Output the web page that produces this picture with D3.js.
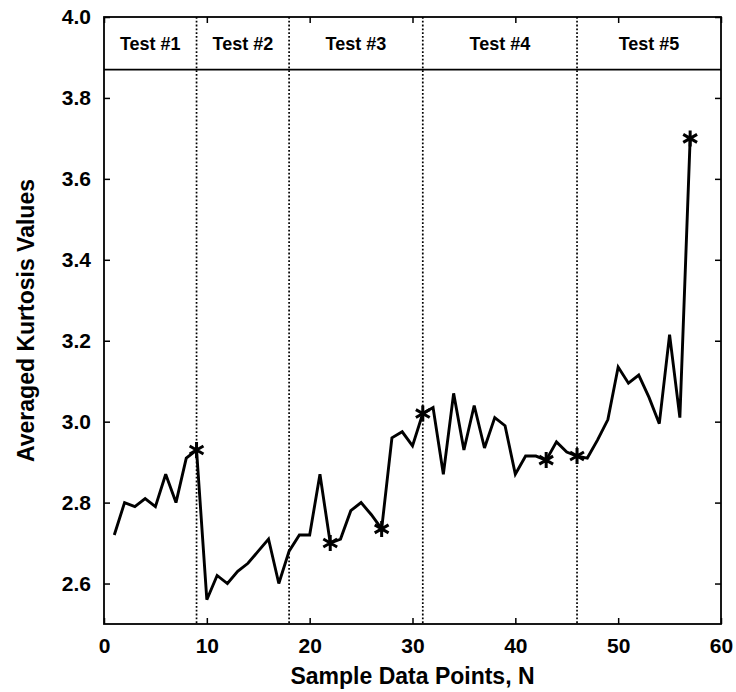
<!DOCTYPE html>
<html>
<head>
<meta charset="utf-8">
<script src="https://cdn.jsdelivr.net/npm/d3@7"></script>
<style>
  html, body { margin: 0; padding: 0; background: #fff; }
  svg { display: block; }
  text { font-family: "Liberation Sans", Arial, Helvetica, sans-serif; font-weight: bold; fill: #000; }
</style>
</head>
<body>
<script>
// ---- data ----
const sampleN = [1,2,3,4,5,6,7,8,9,10,11,12,13,14,15,16,17,18,19,20,21,22,23,24,25,26,27,28,29,30,
                 31,32,33,34,35,36,37,38,39,40,41,42,43,44,45,46,47,48,49,50,51,52,53,54,55,56,57];
const kurtosis = [2.72,2.80,2.79,2.81,2.79,2.87,2.80,2.91,2.93,2.56,
                  2.62,2.60,2.63,2.65,2.68,2.71,2.60,2.68,2.72,2.72,
                  2.87,2.70,2.71,2.78,2.80,2.77,2.735,2.96,2.975,2.94,
                  3.02,3.035,2.87,3.07,2.93,3.04,2.935,3.01,2.99,2.87,
                  2.915,2.915,2.905,2.95,2.925,2.915,2.91,2.955,3.005,3.135,
                  3.095,3.115,3.06,2.995,3.215,3.01,3.70];
const starN = [9,22,27,31,43,46,57];
const dividerN = [9,18,31,46];
const testLabels = ["Test #1","Test #2","Test #3","Test #4","Test #5"];
const headerBottom = 3.87;
const xTicks = [0,10,20,30,40,50,60];
const yTicks = [2.6,2.8,3.0,3.2,3.4,3.6,3.8,4.0];
const xTitle = "Sample Data Points, N";
const yTitle = "Averaged Kurtosis Values";

// ---- layout ----
const W = 736, H = 692;
const L = 104, R = 721, T = 17, B = 624;

const svg = d3.select("body").append("svg").attr("width", W).attr("height", H);

const x = d3.scaleLinear().domain([0, 60]).range([L, R]);
const y = d3.scaleLinear().domain([2.5, 4.0]).range([B, T]);

const fmt = d3.format(".1f");

// bottom axis (ticks inward)
const gx = svg.append("g").attr("transform", `translate(0,${B})`)
  .call(d3.axisBottom(x).tickValues(xTicks).tickSizeInner(-6).tickSizeOuter(0).tickPadding(14).tickFormat(d3.format("d")));
gx.select(".domain").remove();
gx.selectAll("text").attr("font-size", 21).attr("dy", "0.71em");
gx.selectAll("line").attr("stroke-width", 1.5);

// top ticks
const gxt = svg.append("g").attr("transform", `translate(0,${T})`)
  .call(d3.axisTop(x).tickValues(xTicks).tickSizeInner(-6).tickSizeOuter(0).tickFormat(""));
gxt.select(".domain").remove();
gxt.selectAll("line").attr("stroke-width", 1.5);

// left axis
const gy = svg.append("g").attr("transform", `translate(${L},0)`)
  .call(d3.axisLeft(y).tickValues(yTicks).tickSizeInner(-6).tickSizeOuter(0).tickPadding(13).tickFormat(fmt));
gy.select(".domain").remove();
gy.selectAll("text").attr("font-size", 21);
gy.selectAll("line").attr("stroke-width", 1.5);

// right ticks
const gyr = svg.append("g").attr("transform", `translate(${R},0)`)
  .call(d3.axisRight(y).tickValues(yTicks).tickSizeInner(-6).tickSizeOuter(0).tickFormat(""));
gyr.select(".domain").remove();
gyr.selectAll("line").attr("stroke-width", 1.5);

// frame
svg.append("rect").attr("x", L).attr("y", T).attr("width", R - L).attr("height", B - T)
  .attr("fill", "none").attr("stroke", "#000").attr("stroke-width", 1.8);

// header separator
svg.append("line").attr("x1", L).attr("x2", R).attr("y1", y(headerBottom)).attr("y2", y(headerBottom))
  .attr("stroke", "#000").attr("stroke-width", 1.6);

// dotted dividers
svg.append("g").selectAll("line").data(dividerN).join("line")
  .attr("x1", d => x(d)).attr("x2", d => x(d))
  .attr("y1", T).attr("y2", B)
  .attr("stroke", "#000").attr("stroke-width", 1.7).attr("stroke-dasharray", "1.8,2");

// test labels
const bounds = [0, ...dividerN, 60];
svg.append("g").selectAll("text").data(testLabels).join("text")
  .attr("x", (d, i) => (x(bounds[i]) + x(bounds[i + 1])) / 2)
  .attr("y", (y(4.0) + y(headerBottom)) / 2)
  .attr("dy", "0.36em")
  .attr("text-anchor", "middle")
  .attr("font-size", 18)
  .text(d => d);

// data line
const pts = sampleN.map((n, i) => [n, kurtosis[i]]);
svg.append("path").datum(pts)
  .attr("fill", "none").attr("stroke", "#000").attr("stroke-width", 2.9)
  .attr("stroke-linejoin", "miter").attr("stroke-miterlimit", 3)
  .attr("d", d3.line().x(d => x(d[0])).y(d => y(d[1])));

// star markers
const sym = d3.symbol().type(d3.symbolAsterisk).size(180);
svg.append("g").selectAll("path").data(starN).join("path")
  .attr("transform", d => `translate(${x(d)},${y(kurtosis[sampleN.indexOf(d)])})`)
  .attr("d", sym)
  .attr("fill", "none").attr("stroke", "#000").attr("stroke-width", 3);

// axis titles
svg.append("text").attr("x", (L + R) / 2).attr("y", 684)
  .attr("text-anchor", "middle").attr("font-size", 23).text(xTitle);
svg.append("text")
  .attr("transform", `translate(34,${(T + B) / 2}) rotate(-90)`)
  .attr("text-anchor", "middle").attr("font-size", 23).text(yTitle);
</script>
</body>
</html>
